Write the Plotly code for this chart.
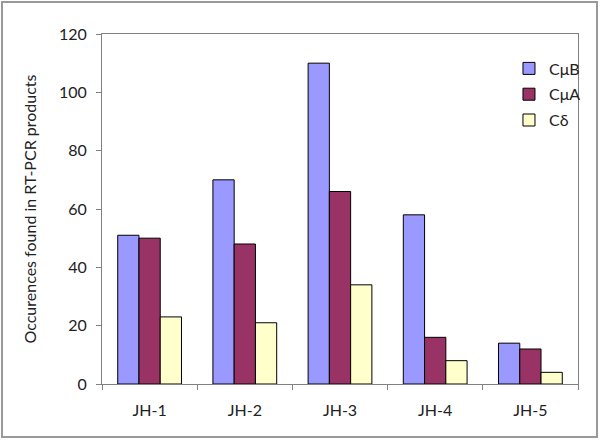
import plotly.graph_objects as go

categories = ["JH-1", "JH-2", "JH-3", "JH-4", "JH-5"]
cmu_b = [51, 70, 110, 58, 14]
cmu_a = [50, 48, 66, 16, 12]
c_delta = [23, 21, 34, 8, 4]

series = [("CμB", cmu_b, "#9999FF"), ("CμA", cmu_a, "#993366"), ("Cδ", c_delta, "#FFFFCC")]

fig = go.Figure()
for name, vals, col in series:
    fig.add_trace(go.Bar(x=categories, y=vals, name=name, legendgroup=name,
                         marker_color=col, marker_line_color="black", marker_line_width=1))

# plot area in pixels: x 102..578, y 34..384
L, R, T, B = 102, 22, 34, 56
pw, ph = 600 - L - R, 440 - T - B

fig.update_layout(
    width=600, height=440,
    margin=dict(l=L, r=R, t=T, b=B),
    paper_bgcolor="white", plot_bgcolor="white",
    font=dict(family="Lato, Open Sans, sans-serif", size=16, color="#222"),
    barmode="group", bargap=0.33, bargroupgap=0,
    showlegend=True,
    legend=dict(x=0.855, y=0.95, xanchor="left", yanchor="top", traceorder="grouped",
                bgcolor="rgba(0,0,0,0)", tracegroupgap=2, font=dict(size=16)),
    shapes=[dict(type="rect", xref="paper", yref="paper",
                 x0=(2 - L) / pw, x1=(597 - L) / pw,
                 y0=-(437 - T - ph) / ph, y1=1 + (T - 2) / ph,
                 line=dict(color="#999", width=2), layer="below")],
)
fig.update_yaxes(range=[0, 120], dtick=20, showgrid=False, zeroline=False,
                 showline=True, linecolor="#808080", mirror=True, ticks="outside",
                 ticklen=5, tickcolor="#808080", ticklabelstandoff=6,
                 title=dict(text="Occurences found in RT-PCR products", font=dict(size=16), standoff=18))
fig.update_xaxes(showgrid=False, showline=True, linecolor="#808080", mirror=True,
                 ticks="outside", tickson="boundaries", ticklen=5, tickcolor="#808080",
                 ticklabelstandoff=12)

fig.write_html("out.html", config={"displayModeBar": False},
               post_script="document.body.style.margin='0';")
